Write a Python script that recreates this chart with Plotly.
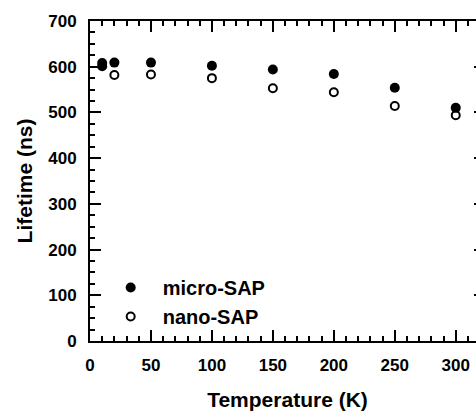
import plotly.graph_objects as go

# Data
micro_T = [10, 10, 20, 50, 100, 150, 200, 250, 300]
micro_tau = [608, 601, 609, 609, 602, 594, 584, 554, 510]
nano_T = [20, 50, 100, 150, 200, 250, 300]
nano_tau = [582, 583, 575, 553, 544, 514, 494]

x_ticks = [0, 50, 100, 150, 200, 250, 300]
y_ticks = [0, 100, 200, 300, 400, 500, 600, 700]

FONT = "Liberation Sans, Arial, sans-serif"

fig = go.Figure()
fig.add_trace(go.Scatter(
    x=nano_T, y=nano_tau, mode="markers", name="nano-SAP",
    marker=dict(symbol="circle", size=8, color="white",
                line=dict(color="black", width=2)),
))
fig.add_trace(go.Scatter(
    x=micro_T, y=micro_tau, mode="markers", name="micro-SAP",
    marker=dict(symbol="circle", size=10, color="black",
                line=dict(color="black", width=0)),
))

fig.update_layout(
    width=485, height=411, autosize=False,
    margin=dict(l=90, r=0, t=21, b=70, autoexpand=False),
    paper_bgcolor="white", plot_bgcolor="white",
    font=dict(family=FONT, color="black"),
    legend=dict(
        x=0.022, y=0.228, xanchor="left", yanchor="top",
        traceorder="reversed",
        font=dict(family=FONT, size=20, weight="bold", color="black"),
        itemwidth=54, bgcolor="rgba(0,0,0,0)",
        tracegroupgap=0,
    ),
    xaxis=dict(
        range=[0, 324], tickvals=x_ticks, automargin=False,
        ticks="inside", ticklen=11, tickwidth=2, tickcolor="black",
        minor=dict(dtick=10, ticks="inside", ticklen=5, tickwidth=2, tickcolor="black"),
        showline=True, linewidth=2, linecolor="black", mirror="ticks",
        showgrid=False, zeroline=False,
        tickfont=dict(family=FONT, size=17, weight="bold", color="black"),
        ticklabelstandoff=8,
        title=dict(text="Temperature (K)", standoff=18,
                   font=dict(family=FONT, size=21, weight="bold", color="black")),
    ),
    yaxis=dict(
        range=[0, 700], tickvals=y_ticks, automargin=False,
        ticks="inside", ticklen=11, tickwidth=2, tickcolor="black",
        minor=dict(dtick=25, ticks="inside", ticklen=5, tickwidth=2, tickcolor="black"),
        showline=True, linewidth=2, linecolor="black", mirror="ticks",
        showgrid=False, zeroline=False,
        tickfont=dict(family=FONT, size=17, weight="bold", color="black"),
        ticklabelstandoff=8,
        title=dict(text="Lifetime (ns)", standoff=10,
                   font=dict(family=FONT, size=21, weight="bold", color="black")),
    ),
)

fig.write_html(
    "out.html",
    config={"responsive": False, "displayModeBar": False},
    post_script="document.body.style.margin='0';document.body.style.overflow='hidden';",
)
